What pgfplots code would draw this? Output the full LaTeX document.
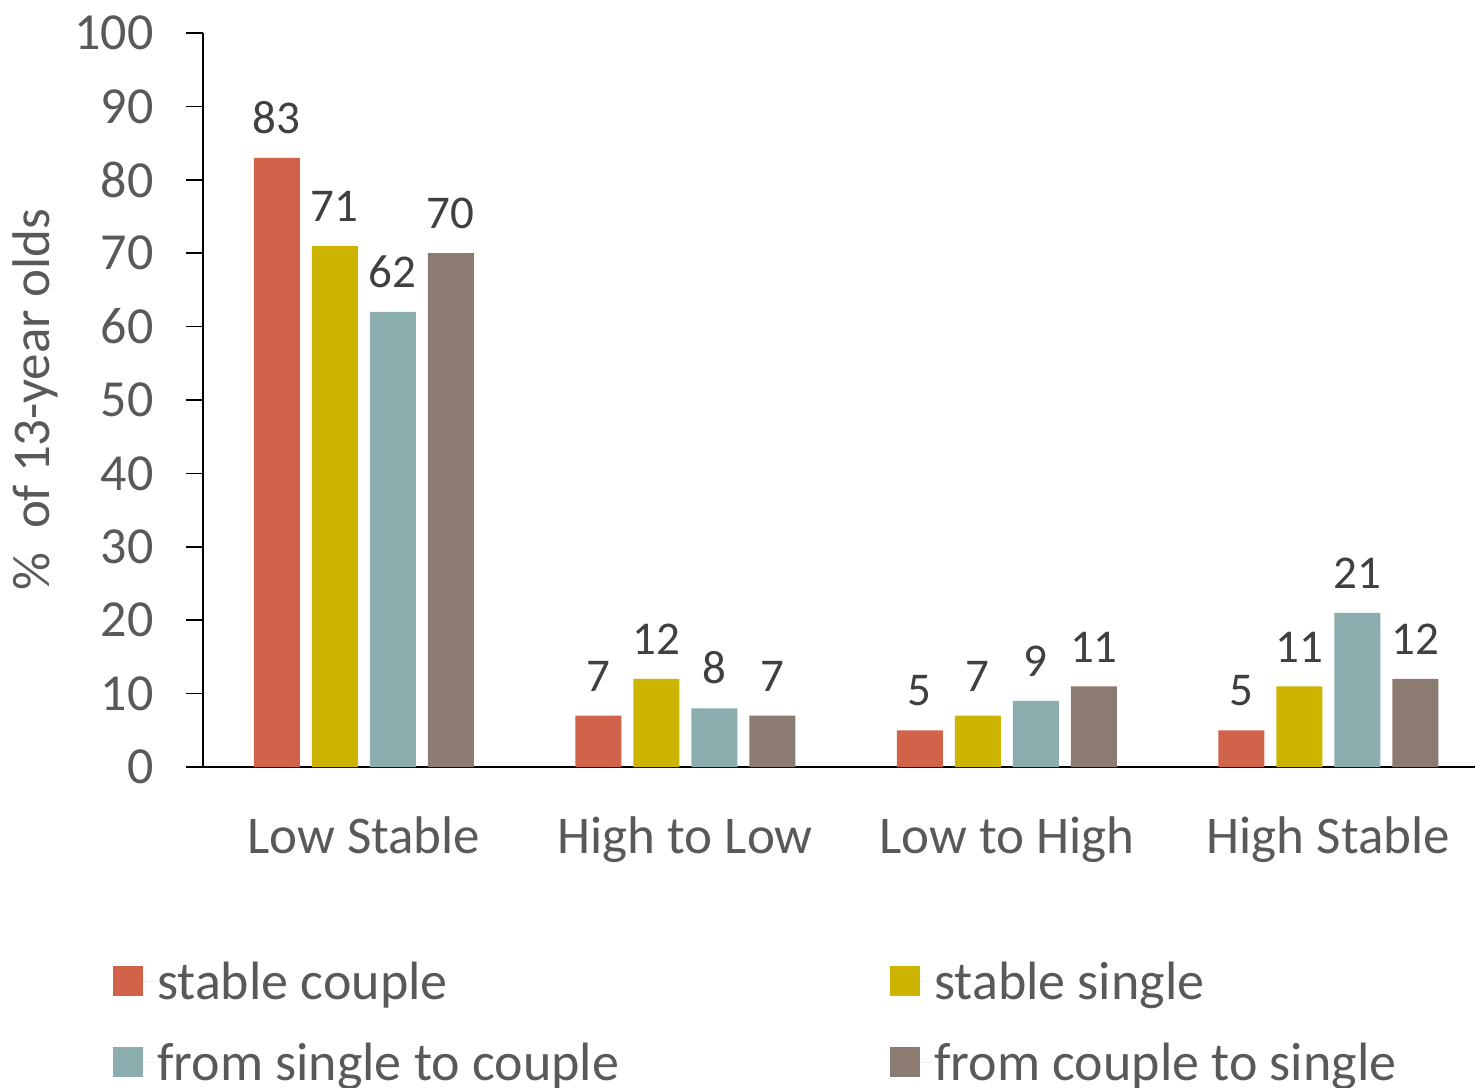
\documentclass[border=0pt]{standalone}
\usepackage{fontspec}
\setmainfont{Carlito}
\usepackage{pgfplots}
\pgfplotsset{compat=1.18}

\definecolor{cCouple}{RGB}{210,99,75}
\definecolor{cSingle}{RGB}{204,180,0}
\definecolor{cToCouple}{RGB}{140,173,173}
\definecolor{cToSingle}{RGB}{140,123,112}
\definecolor{txtgray}{RGB}{89,89,89}
\definecolor{lblgray}{RGB}{64,64,64}

\begin{document}
\begin{tikzpicture}
\begin{axis}[
  name=ax,
  scale only axis,
  width=1272pt, height=734pt,
  xmin=-0.5, xmax=3.456,
  ymin=0, ymax=100,
  ybar=12pt, bar width=46pt,
  axis x line=bottom, axis y line=left,
  axis line style={-, black, line width=1.6pt},
  ytick={0,10,...,100},
  xtick={0,1,2,3},
  xticklabels={Low Stable, High to Low, Low to High, High Stable},
  x tick style={draw=none},
  y tick style={black, line width=1.6pt},
  tick align=outside,
  major tick length=17pt,
  /pgf/number format/assume math mode=true,
  yticklabel style={font=\fontsize{52}{62}\selectfont, text=txtgray, xshift=-29pt},
  xticklabel style={font=\fontsize{53}{63}\selectfont, text=txtgray, yshift=-29pt},
  ylabel={\%\ \ of 13-year olds},
  ylabel style={font=\fontsize{53}{63}\selectfont, text=txtgray, at={(axis description cs:-0.132,0.5)}, anchor=center},
  nodes near coords,
  every node near coord/.append style={font=\fontsize{47}{56}\selectfont, text=lblgray, anchor=south, inner sep=0pt, yshift=24pt},
  legend columns=2,
  legend cell align=left,
  legend image code/.code={\fill[#1] (0pt,-15pt) rectangle (30pt,15pt); \path (0pt,0pt) -- (42pt,0pt);},
  legend style={
    at={(axis description cs:-0.0708,-0.262)}, anchor=north west,
    draw=none, fill=none, inner sep=0pt,
    font=\fontsize{54}{64}\selectfont, text=txtgray,
    /tikz/every even column/.append style={column sep=269pt},
    row sep=38pt,
  },
]
\addplot[fill=cCouple, draw=none] coordinates {(0,83) (1,7) (2,5) (3,5)};
\addplot[fill=cSingle, draw=none] coordinates {(0,71) (1,12) (2,7) (3,11)};
\addplot[fill=cToCouple, draw=none] coordinates {(0,62) (1,8) (2,9) (3,21)};
\addplot[fill=cToSingle, draw=none] coordinates {(0,70) (1,7) (2,11) (3,12)};
\legend{stable couple, stable single, from single to couple, from couple to single}
\end{axis}
\pgfresetboundingbox
\useasboundingbox ([xshift=-203pt, yshift=-320pt]ax.south west) rectangle ([yshift=33pt]ax.north east);
\end{tikzpicture}
\end{document}
